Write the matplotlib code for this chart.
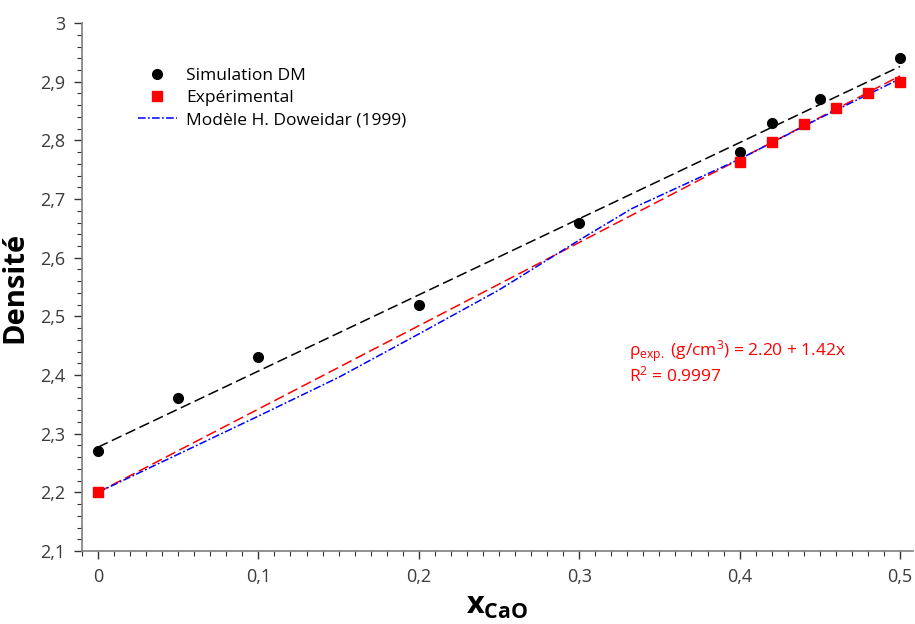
#!/usr/bin/env python3
"""Density vs CaO fraction: MD simulation, experiment and Doweidar model."""

import matplotlib

matplotlib.use("Agg")
import matplotlib.pyplot as plt
from matplotlib.ticker import FixedLocator, MultipleLocator, FuncFormatter

# --- data ---
sim_x = [0.0, 0.05, 0.1, 0.2, 0.3, 0.4, 0.42, 0.45, 0.5]
sim_y = [2.27, 2.36, 2.43, 2.52, 2.66, 2.78, 2.83, 2.87, 2.94]

exp_x = [0.0, 0.4, 0.42, 0.44, 0.46, 0.48, 0.5]
exp_y = [2.20, 2.764, 2.797, 2.828, 2.855, 2.880, 2.900]

model_x = [0.0, 0.05, 0.1, 0.15, 0.2, 0.25, 0.3, 0.333, 0.4, 0.45, 0.5]
model_y = [2.200, 2.265, 2.330, 2.396, 2.470, 2.545, 2.630, 2.684, 2.768, 2.838, 2.905]

fit_x = [0.0, 0.5]
sim_fit_y = [2.277, 2.926]
exp_fit_y = [2.20, 2.91]

x_ticks = [0, 0.1, 0.2, 0.3, 0.4, 0.5]
y_ticks = [2.1, 2.2, 2.3, 2.4, 2.5, 2.6, 2.7, 2.8, 2.9, 3.0]

FONT = "Open Sans"
plt.rcParams["font.family"] = [FONT, "DejaVu Sans"]
plt.rcParams["mathtext.fontset"] = "custom"
plt.rcParams["mathtext.rm"] = FONT
plt.rcParams["mathtext.it"] = FONT + ":italic"
plt.rcParams["mathtext.bf"] = FONT + ":bold"


def comma_fmt(value, _pos):
    text = f"{value:.1f}".rstrip("0").rstrip(".")
    return text.replace(".", ",")


fig = plt.figure(figsize=(9.15, 6.24), dpi=100)
ax = fig.add_axes([0.0896, 0.117, 0.908, 0.846])

ax.plot(fit_x, sim_fit_y, color="black", linestyle=(0, (7, 3)), linewidth=1.1, zorder=2)
ax.plot(fit_x, exp_fit_y, color="red", linestyle=(0, (7, 3)), linewidth=1.1, zorder=2)
ax.plot(model_x, model_y, color="blue", linestyle=(0, (5, 1.5, 1.2, 1.5)), linewidth=1.1,
        zorder=3, label="Modèle H. Doweidar (1999)")
ax.plot(sim_x, sim_y, linestyle="none", marker="o", markersize=7, color="black",
        zorder=4, label="Simulation DM")
ax.plot(exp_x, exp_y, linestyle="none", marker="s", markersize=7, color="red",
        zorder=4, label="Expérimental")

ax.set_xlim(-0.01, 0.508)
ax.set_ylim(2.1, 3.0)
ax.xaxis.set_major_locator(FixedLocator(x_ticks))
ax.yaxis.set_major_locator(FixedLocator(y_ticks))
ax.xaxis.set_minor_locator(MultipleLocator(0.01))
ax.yaxis.set_minor_locator(MultipleLocator(0.02))
ax.xaxis.set_major_formatter(FuncFormatter(comma_fmt))
ax.yaxis.set_major_formatter(FuncFormatter(comma_fmt))

for side in ("top", "right"):
    ax.spines[side].set_visible(False)
for side in ("left", "bottom"):
    ax.spines[side].set_color("#7f7f7f")
    ax.spines[side].set_linewidth(1.2)

ax.tick_params(which="major", direction="out", length=6, width=1, color="#333333",
               labelsize=13, labelcolor="#3a3a3a", pad=6)
ax.tick_params(which="minor", direction="out", length=3.5, width=0.8, color="#333333")

ax.set_ylabel("Densité", fontsize=21, fontweight="bold", labelpad=8)
ax.set_xlabel(r"$\mathbf{x_{CaO}}$", fontsize=22, labelpad=4)

handles, labels = ax.get_legend_handles_labels()
order = [1, 2, 0]
ax.legend([handles[i] for i in order], [labels[i] for i in order],
          loc="upper left", bbox_to_anchor=(0.049, 0.944), frameon=False,
          fontsize=12.5, handlelength=2.2, labelspacing=0.33, handletextpad=0.55)

ax.text(0.331, 2.463,
        r"$\mathrm{ρ_{exp.}}$ (g/cm$^{3}$) = 2.20 + 1.42x" + "\n" + r"R$^{2}$ = 0.9997",
        color="red", fontsize=12.5, va="top", ha="left", linespacing=1.1)

fig.savefig("out.png", dpi=100)
